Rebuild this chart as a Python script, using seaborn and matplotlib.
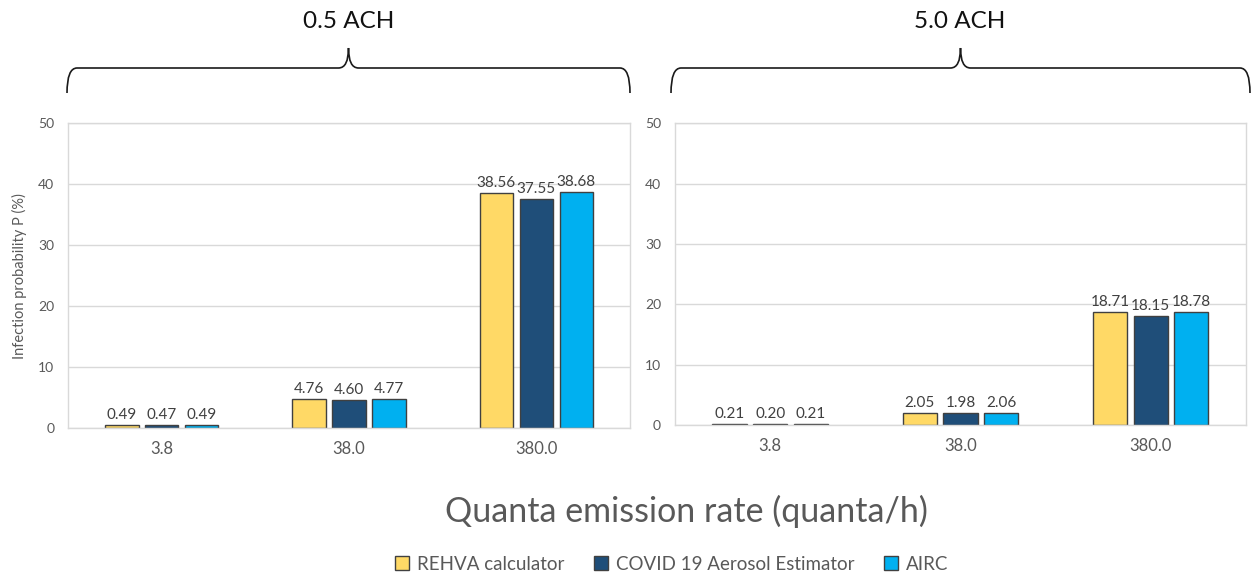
import matplotlib
matplotlib.use("Agg")
import matplotlib.pyplot as plt
from matplotlib.path import Path
from matplotlib.patches import PathPatch
import seaborn as sns
import pandas as pd

# ---- data ----
categories = ["3.8", "38.0", "380.0"]
series = ["REHVA calculator", "COVID 19 Aerosol Estimator", "AIRC"]
ach_low_rehva = [0.49, 4.76, 38.56]
ach_low_covid = [0.47, 4.60, 37.55]
ach_low_airc = [0.49, 4.77, 38.68]
ach_high_rehva = [0.21, 2.05, 18.71]
ach_high_covid = [0.20, 1.98, 18.15]
ach_high_airc = [0.21, 2.06, 18.78]
panel_titles = ["0.5 ACH", "5.0 ACH"]
yticks = [0, 10, 20, 30, 40, 50]

colors = ["#FFD966", "#1F4E79", "#00B0F0"]
txt = "#595959"

sns.set_theme(style="white")
plt.rcParams["font.family"] = ["Lato", "DejaVu Sans"]


def make_df(a, b, c):
    rows = []
    for s, vals in zip(series, [a, b, c]):
        for cat, v in zip(categories, vals):
            rows.append({"cat": cat, "series": s, "value": v})
    return pd.DataFrame(rows)


dfs = [make_df(ach_low_rehva, ach_low_covid, ach_low_airc),
       make_df(ach_high_rehva, ach_high_covid, ach_high_airc)]

fig = plt.figure(figsize=(12.53, 5.73), dpi=100)
ax1 = fig.add_axes([0.0543, 0.253, 0.4485, 0.532])
ax2 = fig.add_axes([0.5387, 0.258, 0.4557, 0.527])

for ax, df in zip([ax1, ax2], dfs):
    sns.barplot(data=df, x="cat", y="value", hue="series", hue_order=series,
                order=categories, palette=colors, saturation=1, width=0.64,
                gap=0.16, edgecolor="#404040", linewidth=1.0, ax=ax,
                legend=True)
    for cont in ax.containers:
        ax.bar_label(cont, fmt="%.2f", padding=2, fontsize=11, color="#404040")
    ax.set_ylim(0, 50)
    ax.set_yticks(yticks)
    ax.set_xlim(-0.5, 2.5)
    ax.grid(axis="y", color="#D9D9D9", linewidth=1)
    ax.set_axisbelow(True)
    for sp in ax.spines.values():
        sp.set_visible(True)
        sp.set_color("#D9D9D9")
        sp.set_linewidth(1)
    ax.tick_params(axis="y", length=0, labelsize=10, labelcolor=txt, pad=10)
    ax.tick_params(axis="x", length=0, labelsize=12, labelcolor=txt, pad=9)
    ax.set_xlabel("")
    ax.set_ylabel("")

ax1.set_ylabel("Infection probability P (%)", fontsize=10.5, color=txt, labelpad=8)

handles, labels = ax1.get_legend_handles_labels()
ax1.get_legend().remove()
ax2.get_legend().remove()
fig.legend(handles, labels, loc="center", bbox_to_anchor=(0.536, 0.015),
           ncol=3, frameon=False, fontsize=13.5, handlelength=0.75,
           handleheight=0.75, handletextpad=0.4, columnspacing=1.6,
           labelcolor=txt)

fig.text(0.548, 0.108, "Quanta emission rate (quanta/h)", ha="center",
         va="center", fontsize=24.5, color=txt)


def brace(x0, x1, y_end, y_mid, y_tip, r=10):
    W, H = 1253.0, 573.0
    xc = (x0 + x1) / 2
    pts = [
        (x0, y_end), (x0, y_mid), (x0 + r, y_mid),
        (xc - r, y_mid),
        (xc, y_mid), (xc, y_tip),
        (xc, y_mid), (xc + r, y_mid),
        (x1 - r, y_mid),
        (x1, y_mid), (x1, y_end),
    ]
    codes = [Path.MOVETO, Path.CURVE3, Path.CURVE3, Path.LINETO,
             Path.CURVE3, Path.CURVE3, Path.CURVE3, Path.CURVE3,
             Path.LINETO, Path.CURVE3, Path.CURVE3]
    verts = [(x / W, 1 - y / H) for x, y in pts]
    fig.add_artist(PathPatch(Path(verts, codes), transform=fig.transFigure,
                             fill=False, edgecolor="#1a1a1a", linewidth=1.2))


brace(67, 630, 93, 68, 48)
brace(671, 1250, 93, 68, 48)
fig.text(349 / 1253, 1 - 22 / 573, panel_titles[0], ha="center", va="center",
         fontsize=17.5, color="#111111")
fig.text(960 / 1253, 1 - 22 / 573, panel_titles[1], ha="center", va="center",
         fontsize=17.5, color="#111111")

fig.savefig("out.png", dpi=100, facecolor="white")
